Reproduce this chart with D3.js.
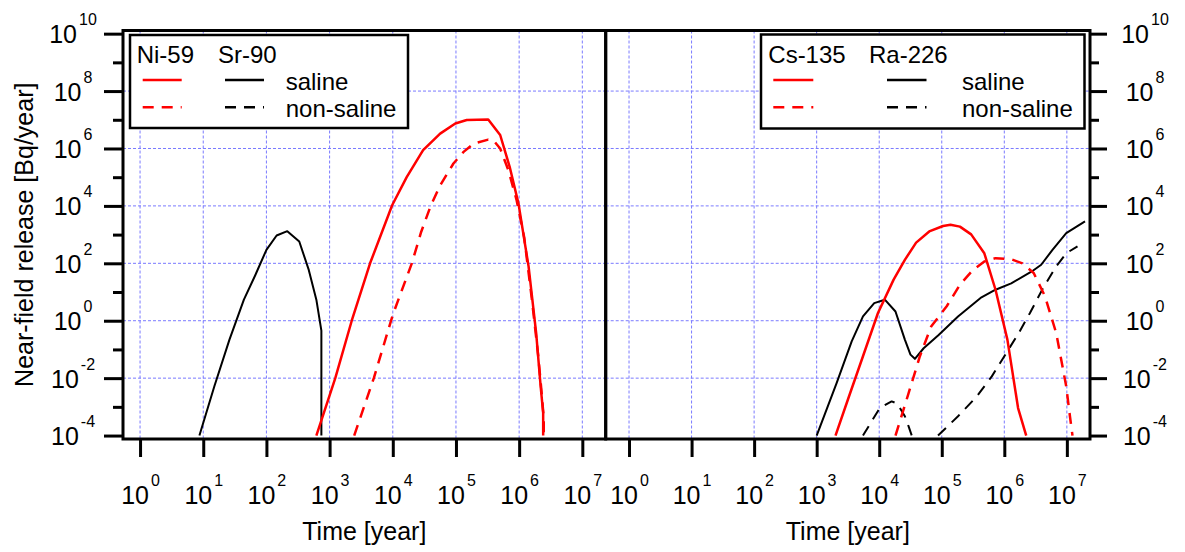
<!DOCTYPE html>
<html>
<head>
<meta charset="utf-8">
<script src="https://cdn.jsdelivr.net/npm/d3@7"></script>
<style>
  body { margin: 0; background: #fff; }
  text { font-family: "Liberation Sans", Arial, sans-serif; fill: #000; }
</style>
</head>
<body>
<svg id="chart" width="1185" height="552"></svg>
<script>
/* axis decades */
const timeDecades = [1e0, 1e1, 1e2, 1e3, 1e4, 1e5, 1e6, 1e7];
const releaseDecades = d3.range(-4, 11).map(e => Math.pow(10, e));
const releaseGrid = [1e-2, 1e0, 1e2, 1e4, 1e6, 1e8];

/* left panel: Ni-59 (red) and Sr-90 (black) */
const sr90SalineTime = [8.7, 15, 26, 44, 66, 100, 145, 214, 331, 468, 617, 741, 741];
const sr90SalineRelease = [1e-4, 5.2e-3, 0.22, 5.4, 37, 295, 930, 1320, 575, 59, 5.4, 0.45, 1e-4];

const ni59SalineTime = [617, 1230, 2240, 4370, 9770, 1.66e4, 3.02e4, 5.62e4, 9.77e4, 1.48e5, 3.24e5,
  5.01e5, 7.08e5, 9.77e5, 1.41e6, 1.86e6, 2.19e6, 2.4e6, 2.4e6];
const ni59SalineRelease = [1e-4, 1e-2, 1, 100, 1.05e4, 1e5, 8.7e5, 3.3e6, 7.4e6, 9.8e6, 1.02e7,
  2.95e6, 2.3e5, 1.2e4, 78, 0.37, 5.2e-3, 6.2e-4, 1e-4];

const ni59NonSalineTime = [2450, 5010, 1e4, 2e4, 2.82e4, 3.98e4, 5.62e4, 9.12e4, 1.32e5, 1.91e5, 3.24e5,
  3.89e5, 5.01e5, 6.76e5, 9.12e5, 1.2e6, 1.58e6, 2e6, 2.29e6, 2.45e6, 2.45e6];
const ni59NonSalineRelease = [1e-4, 1e-2, 1.6, 100, 1260, 1e4, 5.2e4, 3e5, 7.6e5, 1.48e6, 2.04e6,
  1.95e6, 1e6, 1.74e5, 1.58e4, 830, 6.3, 0.063, 2.5e-3, 4e-4, 1e-4];

/* right panel: Cs-135 (red) and Ra-226 (black) */
const cs135SalineTime = [2000, 3160, 5500, 9550, 1.7e4, 2.57e4, 3.89e4, 6.31e4, 1.05e5, 1.38e5, 1.95e5,
  2.95e5, 4.79e5, 7.24e5, 1.12e6, 1.66e6, 2.24e6];
const cs135SalineRelease = [1e-4, 1.8e-3, 0.058, 1.86, 27, 132, 525, 1290, 2000, 2190, 1900,
  1020, 224, 12, 0.22, 9.1e-4, 1e-4];

const cs135NonSalineTime = [1.82e4, 2.95e4, 4.47e4, 6.76e4, 1.2e5, 1.95e5, 3.16e5, 4.79e5, 7.24e5, 1.29e6,
  1.95e6, 2.95e6, 4.47e6, 6.76e6, 9.77e6, 1.12e7, 1.23e7];
const cs135NonSalineRelease = [1e-4, 3e-3, 0.058, 0.63, 3.2, 17.8, 59, 115, 151, 138,
  100, 46, 7.1, 0.37, 5.2e-3, 4.7e-4, 1e-4];

const ra226SalineTime = [1000, 2090, 3630, 5500, 8320, 1.23e4, 1.82e4, 2.57e4, 3.16e4, 3.72e4, 5.13e4,
  8.91e4, 1.82e5, 4.17e5, 7.24e5, 1.29e6, 2.75e6, 3.89e6, 5.89e6, 9.77e6, 1.95e7];
const ra226SalineRelease = [1e-4, 6.8e-3, 0.19, 1.41, 4.1, 5.4, 2.1, 0.22, 0.066, 0.047, 0.11,
  0.32, 1.41, 6.2, 12, 20, 52, 89, 295, 1120, 2880];

// null = below the plotted range
const ra226NonSalineTime = [5500, 1.02e4, 1.58e4, 1.95e4, 2.57e4, 2.95e4, 3.31e4, 5e4,
  8.71e4, 1.82e5, 3.63e5, 6.31e5, 1.2e6, 1.7e6, 2.57e6, 4.17e6, 6.76e6, 9.77e6, 1.48e7];
const ra226NonSalineRelease = [1e-4, 9.1e-4, 1.55e-3, 1.29e-3, 4.7e-4, 2.1e-4, 1e-4, null,
  1e-4, 4.7e-4, 2.3e-3, 0.0115, 0.11, 0.37, 1.86, 13.8, 78, 224, 389];

const leftNuclides = ['Ni-59', 'Sr-90'];
const rightNuclides = ['Cs-135', 'Ra-226'];
const conditions = ['saline', 'non-saline'];

/* layout */
const plotTop = 30.5, plotBottom = 439;
const svg = d3.select('#chart');

const y = d3.scaleLog()
  .domain([Math.pow(10, -4.12), Math.pow(10, 10.11)])
  .range([plotBottom, plotTop]);

const panels = [
  {
    x: d3.scaleLog().domain([Math.pow(10, -0.27), Math.pow(10, 7.37)]).range([123, 605.7]),
    side: 'left',
    series: [
      {t: sr90SalineTime, v: sr90SalineRelease, color: '#000', dash: null, w: 2},
      {t: ni59SalineTime, v: ni59SalineRelease, color: '#f00', dash: null, w: 2.5},
      {t: ni59NonSalineTime, v: ni59NonSalineRelease, color: '#f00', dash: '11,8', w: 2.5}
    ],
    legend: {box: [130, 35, 278, 93], names: leftNuclides, nameX: [136.7, 218],
             lineX: [[142.7, 181.7], [225, 264]], textX: 285.7}
  },
  {
    x: d3.scaleLog().domain([Math.pow(10, -0.373), Math.pow(10, 7.37)]).range([605.7, 1090]),
    side: 'right',
    series: [
      {t: ra226SalineTime, v: ra226SalineRelease, color: '#000', dash: null, w: 2},
      {t: ra226NonSalineTime, v: ra226NonSalineRelease, color: '#000', dash: '11,8', w: 2},
      {t: cs135SalineTime, v: cs135SalineRelease, color: '#f00', dash: null, w: 2.5},
      {t: cs135NonSalineTime, v: cs135NonSalineRelease, color: '#f00', dash: '11,8', w: 2.5}
    ],
    legend: {box: [761, 34.5, 323.5, 94], names: rightNuclides, nameX: [768.3, 869],
             lineX: [[773.3, 813.3], [887, 926.5]], textX: 962}
  }
];

/* "10" with a raised exponent */
function powerLabel(text, d) {
  const e = Math.round(Math.log10(d));
  text.text(null);
  text.append('tspan').text('10');
  text.append('tspan').attr('dx', 2).attr('dy', -18).attr('font-size', 16).text(e);
}

panels.forEach((p, i) => {
  const x = p.x;
  const [x0, x1] = x.range();
  const g = svg.append('g');

  const clipId = 'clip' + i;
  g.append('clipPath').attr('id', clipId)
    .append('rect').attr('x', x0).attr('y', plotTop).attr('width', x1 - x0).attr('height', plotBottom - plotTop);

  // grid
  const grid = g.append('g').attr('stroke', '#7a7aff').attr('stroke-width', 1).attr('stroke-dasharray', '3,2');
  grid.selectAll('.vg').data(timeDecades).join('line')
    .attr('x1', d => x(d)).attr('x2', d => x(d)).attr('y1', plotTop).attr('y2', plotBottom);
  grid.selectAll('.hg').data(releaseGrid).join('line')
    .attr('x1', x0).attr('x2', x1).attr('y1', d => y(d)).attr('y2', d => y(d));

  // curves
  const line = d3.line()
    .defined(d => d[1] != null)
    .x(d => x(d[0]))
    .y(d => y(d[1]));
  g.append('g').attr('clip-path', `url(#${clipId})`)
    .selectAll('path').data(p.series).join('path')
    .attr('d', s => line(s.t.map((t, k) => [t, s.v[k]])))
    .attr('fill', 'none')
    .attr('stroke', s => s.color)
    .attr('stroke-width', s => s.w)
    .attr('stroke-dasharray', s => s.dash)
    .attr('stroke-linejoin', 'round');

  // legend
  const L = p.legend;
  const lg = g.append('g');
  lg.append('rect').attr('x', L.box[0]).attr('y', L.box[1]).attr('width', L.box[2]).attr('height', L.box[3])
    .attr('fill', '#fff').attr('stroke', '#000').attr('stroke-width', 2.5);
  lg.selectAll('.nm').data(L.names).join('text')
    .attr('x', (d, k) => L.nameX[k]).attr('y', 63.3).attr('font-size', 24).text(d => d);
  const colors = ['#f00', '#000'];
  conditions.forEach((c, r) => {
    const ly = 80 + r * 27.3;
    lg.selectAll('.s' + r).data(L.lineX).join('line')
      .attr('x1', d => d[0]).attr('x2', d => d[1]).attr('y1', ly).attr('y2', ly)
      .attr('stroke', (d, k) => colors[k]).attr('stroke-width', 2.5)
      .attr('stroke-dasharray', r ? '11,8' : null);
    lg.append('text').attr('x', L.textX).attr('y', 90 + r * 27).attr('font-size', 24).text(c);
  });

  // frame
  g.append('rect').attr('x', x0).attr('y', plotTop).attr('width', x1 - x0).attr('height', plotBottom - plotTop)
    .attr('fill', 'none').attr('stroke', '#000').attr('stroke-width', 3);

  // x axis
  g.append('g').attr('transform', `translate(0,${plotBottom})`)
    .call(d3.axisBottom(x).tickValues(timeDecades).tickSize(18).tickSizeOuter(0).tickFormat(() => ''))
    .attr('font-size', 25).attr('font-family', null)
    .call(a => a.select('.domain').remove())
    .call(a => a.selectAll('.tick line').attr('stroke-width', 3))
    .call(a => a.selectAll('.tick text').attr('y', 65).attr('dy', null)
      .each(function (d) { powerLabel(d3.select(this), d); }));

  g.append('text')
    .attr('x', (x0 + x1) / 2).attr('y', 540)
    .attr('text-anchor', 'middle').attr('font-size', 25)
    .text('Time [year]');

  // y axis
  const left = p.side === 'left';
  const axis = (left ? d3.axisLeft(y) : d3.axisRight(y))
    .tickValues(releaseDecades).tickSize(left ? 19 : 17).tickSizeOuter(0).tickFormat(() => '');
  g.append('g').attr('transform', `translate(${left ? x0 : x1},0)`)
    .call(axis)
    .attr('font-size', 25).attr('font-family', null).attr('text-anchor', 'middle')
    .call(a => a.select('.domain').remove())
    .call(a => a.selectAll('.tick line').attr('stroke-width', 3)
      .filter(d => Math.round(Math.log10(d)) % 2 !== 0).attr('x2', left ? -10 : 9))
    .call(a => a.selectAll('.tick text')
      .filter(d => Math.round(Math.log10(d)) % 2 === 0)
      .attr('x', left ? -50 : 55).attr('dy', null).attr('y', 9)
      .each(function (d) { powerLabel(d3.select(this), d); }));
});

svg.append('text')
  .attr('transform', `translate(32.5,${(plotTop + plotBottom) / 2}) rotate(-90)`)
  .attr('text-anchor', 'middle').attr('font-size', 25)
  .text('Near-field release [Bq/year]');
</script>
</body>
</html>
